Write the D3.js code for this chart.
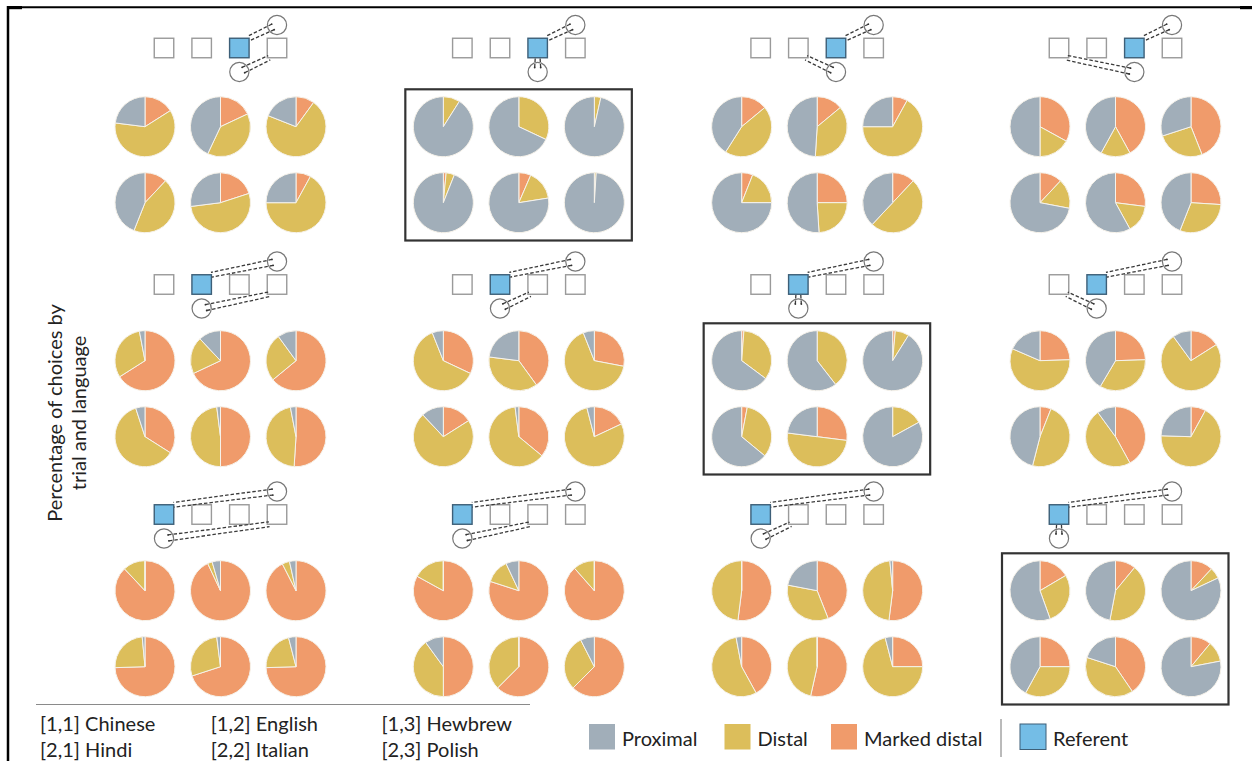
<!DOCTYPE html>
<html>
<head>
<meta charset="utf-8">
<script src="https://cdn.jsdelivr.net/npm/d3@7"></script>
<style>
  html, body { margin: 0; padding: 0; background: #fff; }
  svg { display: block; font-family: Lato, "Open Sans", sans-serif; }
</style>
</head>
<body>
<svg id="chart" width="1252" height="761"></svg>
<script>
// Pie slots inside every trial panel, row-major: [row,col]
const languages = ["[1,1] Chinese", "[1,2] English", "[1,3] Hewbrew",
                   "[2,1] Hindi", "[2,2] Italian", "[2,3] Polish"];

// Response categories (slice order, clockwise from 12 o'clock)
const categories = ["Marked distal", "Distal", "Proximal"];
const legendOrder = ["Proximal", "Distal", "Marked distal"];

// Percentage of choices, one array of six languages per trial (trials row-major, 3 x 4)
const markedDistal = [
  [16, 18, 10, 12, 20, 8],
  [0, 0, 0, 1.5, 6.5, 0],
  [14, 14, 8, 6, 25, 12],
  [33, 42, 44, 12, 27, 26],
  [66, 68, 64, 34, 50, 51],
  [32, 40, 28, 16, 36, 18],
  [1.2, 0, 1.4, 3, 27, 0],
  [24.5, 24.5, 16, 6, 42, 8],
  [88, 93, 92.5, 74.5, 70, 74.5],
  [83, 80, 88.5, 50, 62.5, 62.5],
  [52, 44, 52, 42, 53.5, 25],
  [16.5, 11, 12, 25, 40.5, 11]
];
const distal = [
  [61, 39, 71, 44, 53, 67],
  [9, 32, 3.5, 4.5, 16, 1],
  [45, 37, 67, 19, 24, 50],
  [17, 16, 26, 16, 15, 30],
  [31, 20, 26, 61, 48, 46],
  [62, 37, 66, 72, 62, 78],
  [34, 39.5, 7.5, 33, 50, 17],
  [57, 34, 74, 48, 48, 67.5],
  [12, 2.5, 4, 24, 28, 21.5],
  [17, 13, 11.5, 40, 37.5, 30],
  [48, 34, 46.5, 55, 46.5, 71],
  [28, 42, 6, 33, 39.5, 11]
];
const proximal = [
  [23, 43, 19, 44, 27, 25],
  [91, 68, 96.5, 94, 77.5, 99],
  [41, 49, 25, 75, 51, 38],
  [50, 42, 30, 72, 58, 44],
  [3, 12, 10, 5, 2, 3],
  [6, 23, 6, 12, 2, 4],
  [64.8, 60.5, 91.1, 64, 23, 83],
  [18.5, 41.5, 10, 46, 10, 24.5],
  [0, 4.5, 3.5, 1.5, 2, 4],
  [0, 7, 0, 10, 0, 7.5],
  [0, 22, 1.5, 3, 0, 4],
  [55.5, 47, 82, 42, 20, 78]
];

// Scene per trial: which of the four objects is the referent,
// and which object the addressee (lower figure) is looking at.
const referentIndex = [2, 2, 2, 2, 1, 1, 1, 1, 0, 0, 0, 0];
const addresseeGaze = [3, 2, 1, 0, 3, 2, 1, 0, 3, 2, 1, 0];
const highlighted   = [false, true, false, false, false, false, true, false, false, false, false, true];

const color = d3.scaleOrdinal()
  .domain(["Proximal", "Distal", "Marked distal", "Referent"])
  .range(["#a1aeb9", "#dcbe5b", "#f09b6b", "#74bde6"]);

const svg = d3.select("#chart");

// ---- layout scales ----
const panelX = d3.scalePoint().domain([0, 1, 2, 3]).range([220.5, 1115.5]);
const sceneY = d3.scaleOrdinal().domain([0, 1, 2]).range([48, 284.5, 514.5]);
const pieTopOffset = d3.scaleOrdinal().domain([0, 1, 2]).range([78.7, 76.2, 76.2]);
const pieCol = d3.scalePoint().domain([0, 1, 2]).range([-75.5, 75.5]);
const pieRow = d3.scalePoint().domain([0, 1]).range([0, 76]);
const squareX = d3.scalePoint().domain([0, 1, 2, 3]).range([-56.5, 56.5]);
const SQ = 19.5, PIE_R = 30, HEAD_R = 9.6;

const pie = d3.pie().sort(null).value(d => d.value);
const arc = d3.arc().innerRadius(0).outerRadius(PIE_R);

// ---- outer frame ----
const frame = svg.append("g");
frame.append("line").attr("x1", 8).attr("x2", 8).attr("y1", 6).attr("y2", 761)
  .attr("stroke", "#000").attr("stroke-width", 2.5);
frame.append("line").attr("x1", 7).attr("x2", 1252).attr("y1", 7.3).attr("y2", 7.3)
  .attr("stroke", "#000").attr("stroke-width", 2);
frame.append("rect").attr("x", 7).attr("y", 6).attr("width", 15).attr("height", 3.2).attr("fill", "#000");
frame.append("rect").attr("x", 1240).attr("y", 6).attr("width", 12).attr("height", 3.2).attr("fill", "#000");

// ---- one gaze: two parallel dashed lines from the eyes to a target point ----
function drawGaze(g, cx, cy, tx, ty) {
  const dx = tx - cx, dy = ty - cy, len = Math.hypot(dx, dy);
  const ux = dx / len, uy = dy / len, nx = -uy, ny = ux;
  [-3, 3].forEach(o => {
    const ex = cx + ux * 4.5 + nx * o, ey = cy + uy * 4.5 + ny * o;
    g.append("line")
      .attr("x1", ex).attr("y1", ey)
      .attr("x2", tx + nx * o * 0.8).attr("y2", ty + ny * o * 0.8)
      .attr("stroke", "#3a3a3a").attr("stroke-width", 1.3)
      .attr("stroke-dasharray", "3.5,2");
    g.append("circle").attr("cx", ex).attr("cy", ey).attr("r", 0.9).attr("fill", "#333");
  });
}

// ---- trial panels ----
d3.range(12).forEach(t => {
  const row = Math.floor(t / 4), col = t % 4;
  const cx = panelX(col), sy = sceneY(row);
  const g = svg.append("g").attr("class", "panel");

  // scene: four objects
  const ref = referentIndex[t];
  d3.range(4).forEach(i => {
    g.append("rect")
      .attr("x", cx + squareX(i) - SQ / 2).attr("y", sy - SQ / 2)
      .attr("width", SQ).attr("height", SQ)
      .attr("fill", i === ref ? color("Referent") : "#fff")
      .attr("stroke", i === ref ? "#3d5f78" : "#9a9a9a")
      .attr("stroke-width", 1.4);
  });

  // speaker above the last object, looking at the referent's top-right corner
  const spX = cx + squareX(3), spY = sy - 23;
  drawGaze(g, spX, spY, cx + squareX(ref) + SQ / 2, sy - SQ / 2);
  g.append("circle").attr("cx", spX).attr("cy", spY).attr("r", HEAD_R)
    .attr("fill", "none").attr("stroke", "#777").attr("stroke-width", 1.2);

  // addressee below the referent, looking at its gaze target
  const adX = cx + squareX(ref), adY = sy + 24;
  const tgt = addresseeGaze[t];
  let tx, ty = sy + SQ / 2;
  if (tgt > ref) tx = cx + squareX(tgt) - SQ / 2 + 2;
  else if (tgt < ref) tx = cx + squareX(tgt) + SQ / 2 - 2;
  else tx = adX;
  drawGaze(g, adX, adY, tx, ty);
  g.append("circle").attr("cx", adX).attr("cy", adY).attr("r", HEAD_R)
    .attr("fill", "none").attr("stroke", "#777").attr("stroke-width", 1.2);

  // pies, one per language
  const py0 = sy + pieTopOffset(row);
  languages.forEach((lang, k) => {
    const px = cx + pieCol(k % 3), py = py0 + pieRow(Math.floor(k / 3));
    const vals = [
      { key: "Marked distal", value: markedDistal[t][k] },
      { key: "Distal", value: distal[t][k] },
      { key: "Proximal", value: proximal[t][k] }
    ];
    g.append("g").attr("transform", `translate(${px},${py})`)
      .selectAll("path").data(pie(vals)).join("path")
      .attr("d", arc)
      .attr("fill", d => color(d.data.key))
      .attr("stroke", "#f6f2ea").attr("stroke-width", 1);
  });

  // frame the trials where the addressee attends to the referent
  if (highlighted[t]) {
    g.append("rect")
      .attr("x", cx + pieCol(0) - 38).attr("y", py0 - 37.4)
      .attr("width", pieCol(2) - pieCol(0) + 75.5)
      .attr("height", pieRow(1) + 75.2)
      .attr("fill", "none").attr("stroke", "#333").attr("stroke-width", 2.2);
  }
});

// ---- y axis title ----
const yTitle = ["Percentage of choices by", "trial and language"];
svg.selectAll("text.ytitle").data(yTitle).join("text")
  .attr("class", "ytitle")
  .attr("transform", (d, i) => `translate(${62 + i * 24},413) rotate(-90)`)
  .attr("text-anchor", "middle")
  .attr("font-size", 20).attr("fill", "#222")
  .text(d => d);

// ---- language key ----
svg.append("line").attr("x1", 36).attr("x2", 530).attr("y1", 704.5).attr("y2", 704.5)
  .attr("stroke", "#8a8a8a").attr("stroke-width", 1.2);
const keyX = d3.scalePoint().domain([0, 1, 2]).range([40, 381.5]);
svg.selectAll("text.lang").data(languages).join("text")
  .attr("class", "lang")
  .attr("x", (d, i) => keyX(i % 3))
  .attr("y", (d, i) => 730.5 + Math.floor(i / 3) * 26)
  .attr("font-size", 20).attr("fill", "#222")
  .text(d => d);

// ---- colour legend ----
const legendX = d3.scaleOrdinal().domain(legendOrder).range([589, 724.5, 831]);
const lg = svg.append("g");
legendOrder.forEach(k => {
  lg.append("rect").attr("x", legendX(k)).attr("y", 724).attr("width", 26).attr("height", 25.5)
    .attr("fill", color(k));
  lg.append("text").attr("x", legendX(k) + 33).attr("y", 745.5)
    .attr("font-size", 20).attr("fill", "#222").text(k);
});
lg.append("line").attr("x1", 1001).attr("x2", 1001).attr("y1", 719).attr("y2", 757)
  .attr("stroke", "#777").attr("stroke-width", 1);
lg.append("rect").attr("x", 1020).attr("y", 724).attr("width", 26).attr("height", 25.5)
  .attr("fill", color("Referent")).attr("stroke", "#3d5f78").attr("stroke-width", 1);
lg.append("text").attr("x", 1053).attr("y", 745.5)
  .attr("font-size", 20).attr("fill", "#222").text("Referent");
</script>
</body>
</html>
